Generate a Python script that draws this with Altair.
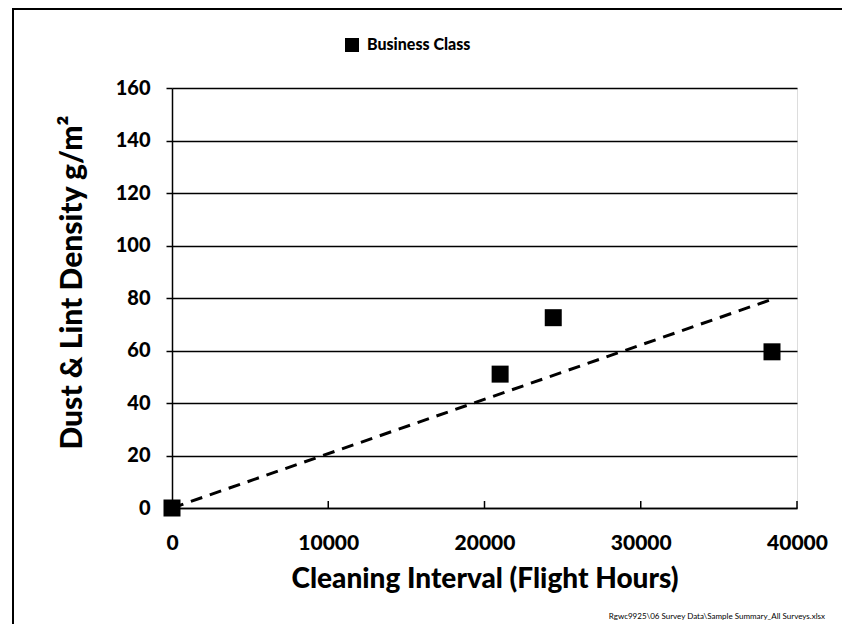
import altair as alt
import pandas as pd

# Data
hours = [0, 21000, 24400, 38400]
density = [0, 51, 72.5, 59.5]
series_name = "Business Class"
trend_x = [0, 38400]
trend_y = [0, 79.5]
x_ticks = [0, 10000, 20000, 30000, 40000]
y_ticks = [0, 20, 40, 60, 80, 100, 120, 140, 160]
footnote = "Rgwc9925\\06 Survey Data\\Sample   Summary_All   Surveys.xlsx"

FONT = "Lato"
W = 900

pts = pd.DataFrame({"x": hours, "y": density, "s": [series_name] * len(hours)})
trend = pd.DataFrame({"x": trend_x, "y": trend_y})
xt = pd.DataFrame({"x": x_ticks[1:]})

xscale = alt.Scale(domain=[0, 40000], nice=False, zero=False)
yscale = alt.Scale(domain=[0, 160], nice=False)

xaxis = alt.Axis(values=x_ticks, format="d", title="Cleaning Interval (Flight Hours)",
                 grid=False, domain=True, domainColor="black", domainWidth=1.5,
                 ticks=False, labelPadding=24, labelFontSize=21, labelFont=FONT,
                 labelFontWeight=W, labelColor="black", labelFlush=False,
                 titleFontSize=28, titleFont=FONT, titleFontWeight=W,
                 titleColor="black", titlePadding=12)
yaxis = alt.Axis(values=y_ticks, title="Dust & Lint Density g/m²",
                 grid=True, gridColor="black", gridWidth=1.5,
                 domain=True, domainColor="black", domainWidth=1.5,
                 ticks=True, tickSize=6, tickColor="black", tickWidth=1.5,
                 labelPadding=16, labelFontSize=20, labelFont=FONT,
                 labelFontWeight=W, labelColor="black", labelFlush=False,
                 titleFontSize=30, titleFont=FONT, titleFontWeight=W,
                 titleColor="black", titlePadding=28, titleY=194)

frame = alt.Chart(pd.DataFrame({"a": [0]})).mark_rect(
    fill=None, stroke="black", strokeWidth=2
).encode(x=alt.value(-159), x2=alt.value(700), y=alt.value(-79), y2=alt.value(560))

trend_line = alt.Chart(trend).mark_line(
    color="black", strokeWidth=3, strokeDash=[12, 8]
).encode(x=alt.X("x:Q", scale=xscale, axis=xaxis),
         y=alt.Y("y:Q", scale=yscale, axis=yaxis))

xtick_marks = alt.Chart(xt).mark_rule(color="black", strokeWidth=1.5).encode(
    x=alt.X("x:Q", scale=xscale), y=alt.value(420), y2=alt.value(413))

points = alt.Chart(pts).mark_square(filled=True, size=289, opacity=1).encode(
    x=alt.X("x:Q", scale=xscale),
    y=alt.Y("y:Q", scale=yscale),
    color=alt.Color("s:N", scale=alt.Scale(range=["black"]),
                    legend=alt.Legend(title=None, orient="none", legendX=172, legendY=-51,
                                      symbolType="square", symbolSize=196,
                                      symbolStrokeWidth=0,
                                      labelFont=FONT, labelFontSize=16,
                                      labelFontWeight=W, labelColor="black",
                                      labelOffset=7)),
)

note = alt.Chart(pd.DataFrame({"t": [footnote]})).mark_text(
    align="right", baseline="middle", fontSize=8, font=FONT, color="black"
).encode(text="t:N", x=alt.value(653), y=alt.value(529))

chart = alt.layer(frame, trend_line, xtick_marks, points, note).properties(
    width=625, height=420,
    autosize=alt.AutoSizeParams(type="none"),
    padding={"left": 164, "top": 80, "right": 45, "bottom": 116},
).configure_view(stroke=None).configure(background="white")

chart.save("out.html", embed_options={"renderer": "svg", "actions": False})
